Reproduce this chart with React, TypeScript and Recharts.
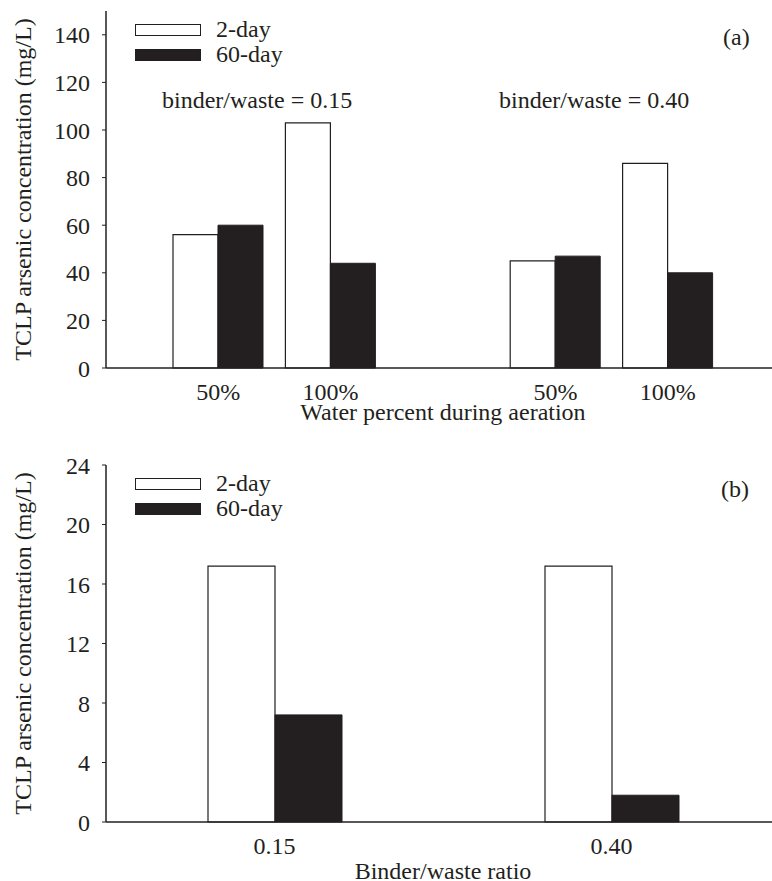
import React from 'react';
import { BarChart, Bar, XAxis, YAxis, Legend } from 'recharts';

const INK = '#231f20';
const FONT = '"Liberation Serif", "Times New Roman", Times, serif';
const FS = 24;

// panel (a): water percent during aeration, two binder/waste groups
const waterCategories = ['50%', '100%', '', '50%', '100%'];
const waterTwoDay = [56, 103, null, 45, 86];
const waterSixtyDay = [60, 44, null, 47, 40];
const yTicksA = [0, 20, 40, 60, 80, 100, 120, 140];

// panel (b): binder/waste ratio
const ratioCategories = ['0.15', '0.40'];
const ratioTwoDay = [17.2, 17.2];
const ratioSixtyDay = [7.2, 1.8];
const yTicksB = [0, 4, 8, 12, 16, 20, 24];

const dataA = waterCategories.map((c, i) => ({ cat: c, twoDay: waterTwoDay[i], sixtyDay: waterSixtyDay[i] }));
const dataB = ratioCategories.map((c, i) => ({ cat: c, twoDay: ratioTwoDay[i], sixtyDay: ratioSixtyDay[i] }));

const textStyle = { fontFamily: FONT, fontSize: FS, fill: INK };

const LegendBox = ({ payload }: any) => (
  <div style={{ fontFamily: FONT, fontSize: FS, color: INK }}>
    {(payload || []).map((p: any) => (
      <div key={p.value} style={{ display: 'flex', alignItems: 'center', height: 25 }}>
        <span
          style={{
            display: 'inline-block',
            width: 66,
            height: 12,
            boxSizing: 'border-box',
            border: `1.5px solid ${INK}`,
            background: p.dataKey === 'twoDay' ? '#fff' : INK,
            marginRight: 15,
          }}
        />
        <span>{p.value}</span>
      </div>
    ))}
  </div>
);

const Note = ({ x, y, children }: { x: number; y: number; children: React.ReactNode }) => (
  <div style={{ position: 'absolute', left: x, top: y, fontFamily: FONT, fontSize: FS, color: INK, whiteSpace: 'nowrap', lineHeight: '24px' }}>
    {children}
  </div>
);

const Panel = ({ data, ticks, max, xLabel, topMargin, xHeight, bottom, barSize }: any) => (
  <BarChart
    width={800}
    height={topMargin + 357 + xHeight + bottom}
    data={data}
    barGap={0}
    margin={{ top: topMargin, right: 20, left: 0, bottom }}
    style={{ fontFamily: FONT }}
  >
    <XAxis
      dataKey="cat"
      padding={data.length > 2 ? { left: 56, right: 56 } : undefined}
      tickLine={false}
      tickSize={0}
      tickMargin={15}
      height={xHeight}
      axisLine={{ stroke: INK, strokeWidth: 1.5 }}
      tick={textStyle}
      interval={0}
      label={{ value: xLabel, position: 'insideBottom', offset: 0, ...textStyle }}
    />
    <XAxis xAxisId="top" dataKey="cat" orientation="top" height={0} tick={false} tickLine={false} axisLine={{ stroke: INK, strokeWidth: 1.5 }} />
    <YAxis
      width={106}
      domain={[0, max]}
      ticks={ticks}
      tickSize={4}
      tickMargin={12}
      tickLine={{ stroke: INK }}
      axisLine={{ stroke: INK, strokeWidth: 1.5 }}
      tick={textStyle}
      label={{ value: 'TCLP arsenic concentration (mg/L)', angle: -90, position: 'center', dx: -31, ...textStyle }}
    />
    <Legend
      layout="vertical"
      align="center"
      verticalAlign="middle"
      content={<LegendBox />}
      wrapperStyle={{ top: topMargin + 6, left: 135, width: 'auto' }}
    />
    <Bar dataKey="twoDay" name="2-day" fill="#fff" stroke={INK} strokeWidth={1.2} barSize={barSize} isAnimationActive={false} />
    <Bar dataKey="sixtyDay" name="60-day" fill={INK} stroke={INK} strokeWidth={1} barSize={barSize} isAnimationActive={false} />
  </BarChart>
);

export default function App() {
  return (
    <div style={{ position: 'fixed', left: 0, top: 0, width: 772, height: 881, overflow: 'hidden', background: '#fff' }}>
      <div style={{ position: 'absolute', left: 0, top: 0 }}>
        <Panel data={dataA} ticks={yTicksA} max={150} xLabel="Water percent during aeration" topMargin={11} xHeight={52} bottom={10} barSize={45} />
      </div>
      <div style={{ position: 'absolute', left: 0, top: 440 }}>
        <Panel data={dataB} ticks={yTicksB} max={24} xLabel="Binder/waste ratio" topMargin={25} xHeight={57} bottom={2} barSize={67} />
      </div>
      <Note x={162} y={88}>binder/waste = 0.15</Note>
      <Note x={499} y={88}>binder/waste = 0.40</Note>
      <Note x={723} y={25}>(a)</Note>
      <Note x={721} y={477}>(b)</Note>
    </div>
  );
}
